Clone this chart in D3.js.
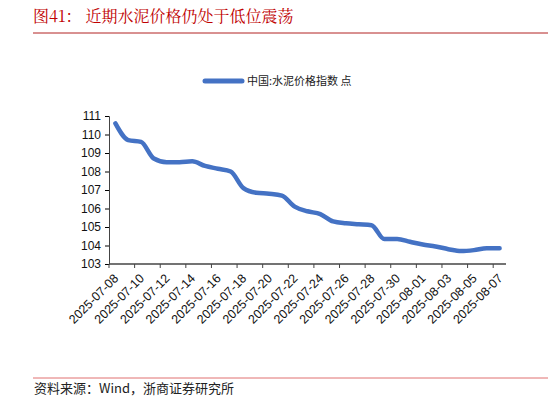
<!DOCTYPE html>
<html>
<head>
<meta charset="utf-8">
<script src="https://cdn.jsdelivr.net/npm/d3@7"></script>
<style>
body { margin: 0; background: #fff; }
svg { font-family: "Liberation Sans", Arial, sans-serif; }
</style>
</head>
<body>
<div id="chart"></div>
<script>
// data: daily cement price index
const dates = d3.timeDays(new Date(2025, 6, 8), new Date(2025, 7, 8)).map(d3.timeFormat("%Y-%m-%d"));
const values = [110.6, 109.7, 109.6, 108.7, 108.5, 108.5, 108.55, 108.3, 108.15, 108.0,
    107.1, 106.85, 106.8, 106.7, 106.1, 105.85, 105.7, 105.3, 105.2, 105.15,
    105.1, 104.35, 104.35, 104.2, 104.05, 103.95, 103.8, 103.7, 103.75, 103.85, 103.85];
const yTicks = [103, 104, 105, 106, 107, 108, 109, 110, 111];
const seriesName = "中国:水泥价格指数 点";

const width = 548, height = 403;
const margins = { left: 109, right: 42, top: 116, bottom: 139 };

const svg = d3.select("#chart").append("svg")
    .attr("width", width)
    .attr("height", height);

// title + rules
svg.append("text")
    .attr("x", 33).attr("y", 22)
    .attr("fill", "#c00000")
    .attr("font-family", "'Noto Serif CJK SC', 'Noto Sans CJK SC', serif")
    .attr("font-size", 16)
    .text("图41：  近期水泥价格仍处于低位震荡");
svg.append("line").attr("x1", 33).attr("x2", 548).attr("y1", 33).attr("y2", 33)
    .attr("stroke", "#b22222").attr("stroke-width", 1);
svg.append("line").attr("x1", 33).attr("x2", 548).attr("y1", 378).attr("y2", 378)
    .attr("stroke", "#e07070").attr("stroke-width", 1);
svg.append("text")
    .attr("x", 34).attr("y", 393)
    .attr("font-family", "'Noto Sans CJK SC', serif")
    .attr("font-size", 13)
    .attr("fill", "#222")
    .text("资料来源：Wind，浙商证券研究所");

// legend
svg.append("line").attr("x1", 205).attr("x2", 242).attr("y1", 81).attr("y2", 81)
    .attr("stroke", "#4472c4").attr("stroke-width", 5).attr("stroke-linecap", "round");
svg.append("text").attr("x", 247).attr("y", 85)
    .attr("font-family", "'Noto Sans CJK SC', sans-serif")
    .attr("font-size", 11).attr("fill", "#222")
    .text(seriesName);

const x = d3.scaleBand()
    .domain(dates)
    .range([margins.left, width - margins.right]);
const y = d3.scaleLinear()
    .domain([103, 111])
    .range([height - margins.bottom, margins.top]);

// y axis
const yAxis = svg.append("g")
    .attr("transform", `translate(${margins.left},0)`)
    .call(d3.axisLeft(y).tickValues(yTicks).tickSize(4).tickPadding(4));
yAxis.select(".domain").attr("stroke", "#444");
yAxis.selectAll("text").attr("font-size", 12).attr("fill", "#111");

// x axis: ticks at category edges, every other day labelled
const labelled = dates.filter((d, i) => i % 2 === 0 && i < dates.length - 1).concat([dates[dates.length - 1]]);
const tickPos = (d) => d === dates[dates.length - 1] ? x(d) - x.step() * 0 : x(d);
const xAxis = svg.append("g")
    .attr("transform", `translate(0,${height - margins.bottom})`);
xAxis.append("line")
    .attr("x1", margins.left).attr("x2", width - margins.right)
    .attr("stroke", "#444").attr("stroke-width", 1.5);
xAxis.selectAll(".tk").data(labelled).enter().append("line")
    .attr("x1", d => tickPos(d)).attr("x2", d => tickPos(d))
    .attr("y1", 0).attr("y2", 4)
    .attr("stroke", "#444");
xAxis.selectAll(".lb").data(labelled).enter().append("text")
    .attr("transform", d => `translate(${tickPos(d) + 4},${9}) rotate(-45)`)
    .attr("text-anchor", "end")
    .attr("dy", "0.7em")
    .attr("font-size", 12.5)
    .attr("fill", "#111")
    .text(d => d);

// line
const line = d3.line()
    .x((d, i) => x(dates[i]) + x.bandwidth() / 2)
    .y(d => y(d))
    .curve(d3.curveMonotoneX);
svg.append("path")
    .datum(values)
    .attr("d", line)
    .attr("fill", "none")
    .attr("stroke", "#4472c4")
    .attr("stroke-width", 4.5)
    .attr("stroke-linecap", "round");
</script>
</body>
</html>
